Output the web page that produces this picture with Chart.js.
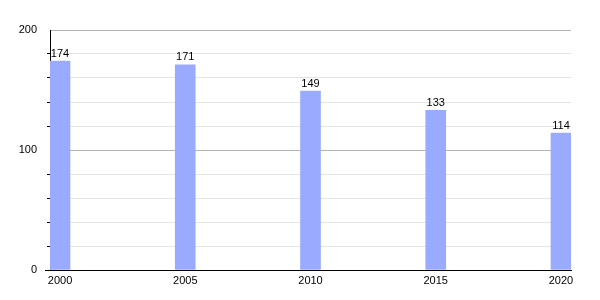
<!DOCTYPE html>
<html>
<head>
<meta charset="utf-8">
<script src="https://cdn.jsdelivr.net/npm/chart.js@4"></script>
<style>
  html, body { margin: 0; padding: 0; background: #fff; }
  #wrap { width: 600px; height: 300px; }
</style>
</head>
<body>
<div id="wrap"><canvas id="grafico"></canvas></div>
<script>
// Dados do gráfico
const anos = [2000, 2005, 2010, 2015, 2020];
const valores = [174, 171, 149, 133, 114];
const ticksX = [2000, 2005, 2010, 2015, 2020];
const ticksY = [0, 100, 200];

Chart.defaults.font.family = "'Liberation Sans', Arial, sans-serif";
Chart.defaults.font.size = 11;
Chart.defaults.color = "#000";

// Rótulos de valor acima de cada barra
const rotulos = {
  id: "rotulos",
  afterDatasetsDraw(chart) {
    const c = chart.ctx;
    const meta = chart.getDatasetMeta(0);
    c.save();
    c.font = "11px 'Liberation Sans', Arial, sans-serif";
    c.fillStyle = "#000";
    c.textAlign = "center";
    c.textBaseline = "bottom";
    meta.data.forEach((bar, i) => {
      c.fillText(String(valores[i]), bar.x, bar.y - 2);
    });
    // pequeno prolongamento do eixo x à esquerda
    const area = chart.chartArea;
    c.strokeStyle = "#000";
    c.lineWidth = 1;
    c.beginPath();
    c.moveTo(area.left - 5, Math.round(area.bottom) + 0.5);
    c.lineTo(area.left, Math.round(area.bottom) + 0.5);
    c.stroke();
    c.restore();
  }
};

const ctx = document.getElementById("grafico").getContext("2d");
new Chart(ctx, {
  type: "bar",
  data: {
    datasets: [{
      data: anos.map((a, i) => ({ x: a, y: valores[i] })),
      backgroundColor: "#9aabff",
      borderWidth: 0,
      barThickness: 20
    }]
  },
  options: {
    responsive: true,
    maintainAspectRatio: false,
    animation: false,
    layout: { padding: { top: 30, right: 29, left: 0, bottom: 0 } },
    plugins: { legend: { display: false }, tooltip: { enabled: false } },
    scales: {
      x: {
        type: "linear",
        offset: false,
        min: 1999.6,
        max: 2020.4,
        afterBuildTicks: (scale) => { scale.ticks = ticksX.map(v => ({ value: v })); },
        afterFit: (scale) => { scale.height = 30; },
        grid: { display: false, drawTicks: false, offset: false },
        border: { display: true, color: "#000", width: 1 },
        ticks: { padding: 4, maxRotation: 0, autoSkip: false, callback: (v) => String(v) }
      },
      y: {
        min: 0,
        max: 200,
        afterFit: (scale) => { scale.width = 50; },
        ticks: {
          stepSize: 20,
          padding: 10,
          callback: (v) => ticksY.includes(v) ? String(v) : ""
        },
        grid: {
          color: (c) => c.tick.value % 100 === 0 ? "#b4b4b4" : "#e4e4e4",
          tickColor: (c) => c.tick.value % 100 === 0 ? "rgba(0,0,0,0)" : "#000",
          tickLength: 3,
          lineWidth: 1
        },
        border: { display: true, color: "#000", width: 1 }
      }
    }
  },
  plugins: [rotulos]
});
</script>
</body>
</html>
